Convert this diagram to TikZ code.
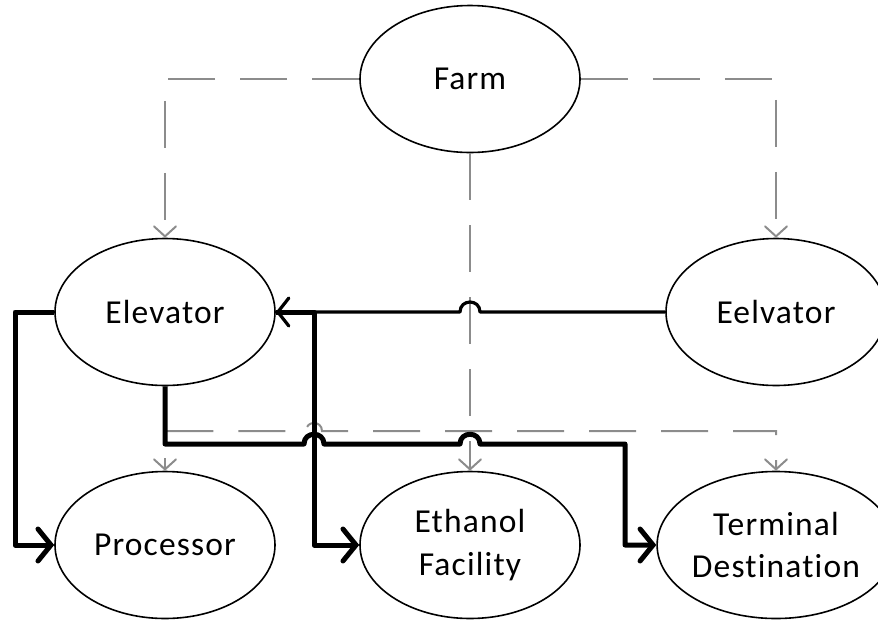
\documentclass[tikz,border=0pt]{standalone}
\usepackage{fontspec}
\setmainfont{Carlito}[Ligatures=NoCommon,LetterSpace=3.5]
\usetikzlibrary{arrows.meta,shapes.geometric}
\definecolor{linkgray}{RGB}{140,140,140}

\begin{document}
\begin{tikzpicture}[x=1pt,y=-1pt,
  site/.style={draw=black, line width=1.6pt, ellipse, minimum width=220pt,
    minimum height=147pt, inner sep=0pt, align=center,
    font=\fontsize{33.5}{42.7}\selectfont},
  flow/.style={draw=black, line width=5pt, line join=round,
    -{Straight Barb[length=13pt,width=32pt,line cap=round]}},
  backflow/.style={draw=black, line width=3.2pt, line join=round,
    -{Straight Barb[length=11pt,width=28pt,line cap=round]}},
  supply/.style={draw=linkgray, line width=2pt,
    dash pattern=on 47pt off 25pt,
    -{Straight Barb[length=10pt,width=22pt,line cap=round]}}]
\useasboundingbox (0,0) rectangle (878,622);

% sites
\node[site] (farm) at (470,79) {Farm};
\node[site] (elev) at (165,312) {Elevator};
\node[site] (eelv) at (776,312) {Eelvator};
\node[site] (proc) at (165,545) {Processor};
\node[site] (eth)  at (470,545) {Ethanol\\Facility};
\node[site] (term) at (776,545) {Terminal\\Destination};

% dashed supply links
\draw[supply] (farm.west) -| (elev.north);
\draw[supply] (farm.east) -| (eelv.north);
\draw[supply] (farm.south) -- (eth.north);
\draw[supply] (elev.south) -- (proc.north);
\draw[supply, dash phase=26pt] (elev.south) -- (165,431) -- (306,431)
  .. controls (306,420.3) and (322,420.3) .. (322,431)
  -- (776,431) -- (term.north);

% solid flows out of the elevator
\draw[backflow] (eelv.west) -- (480,312)
  .. controls (480,298.7) and (460,298.7) .. (460,312) -- (elev.east);
\draw[flow] (elev.west) -- (15,312) |- (proc.west);
\draw[flow] (elev.east) -- (314,312) |- (eth.west);
\draw[flow] (elev.south) -- (165,444) -- (304,444)
  .. controls (304,431) and (324,431) .. (324,444) -- (460,444)
  .. controls (460,431) and (480,431) .. (480,444)
  -- (625,444) |- (term.west);
\end{tikzpicture}
\end{document}
